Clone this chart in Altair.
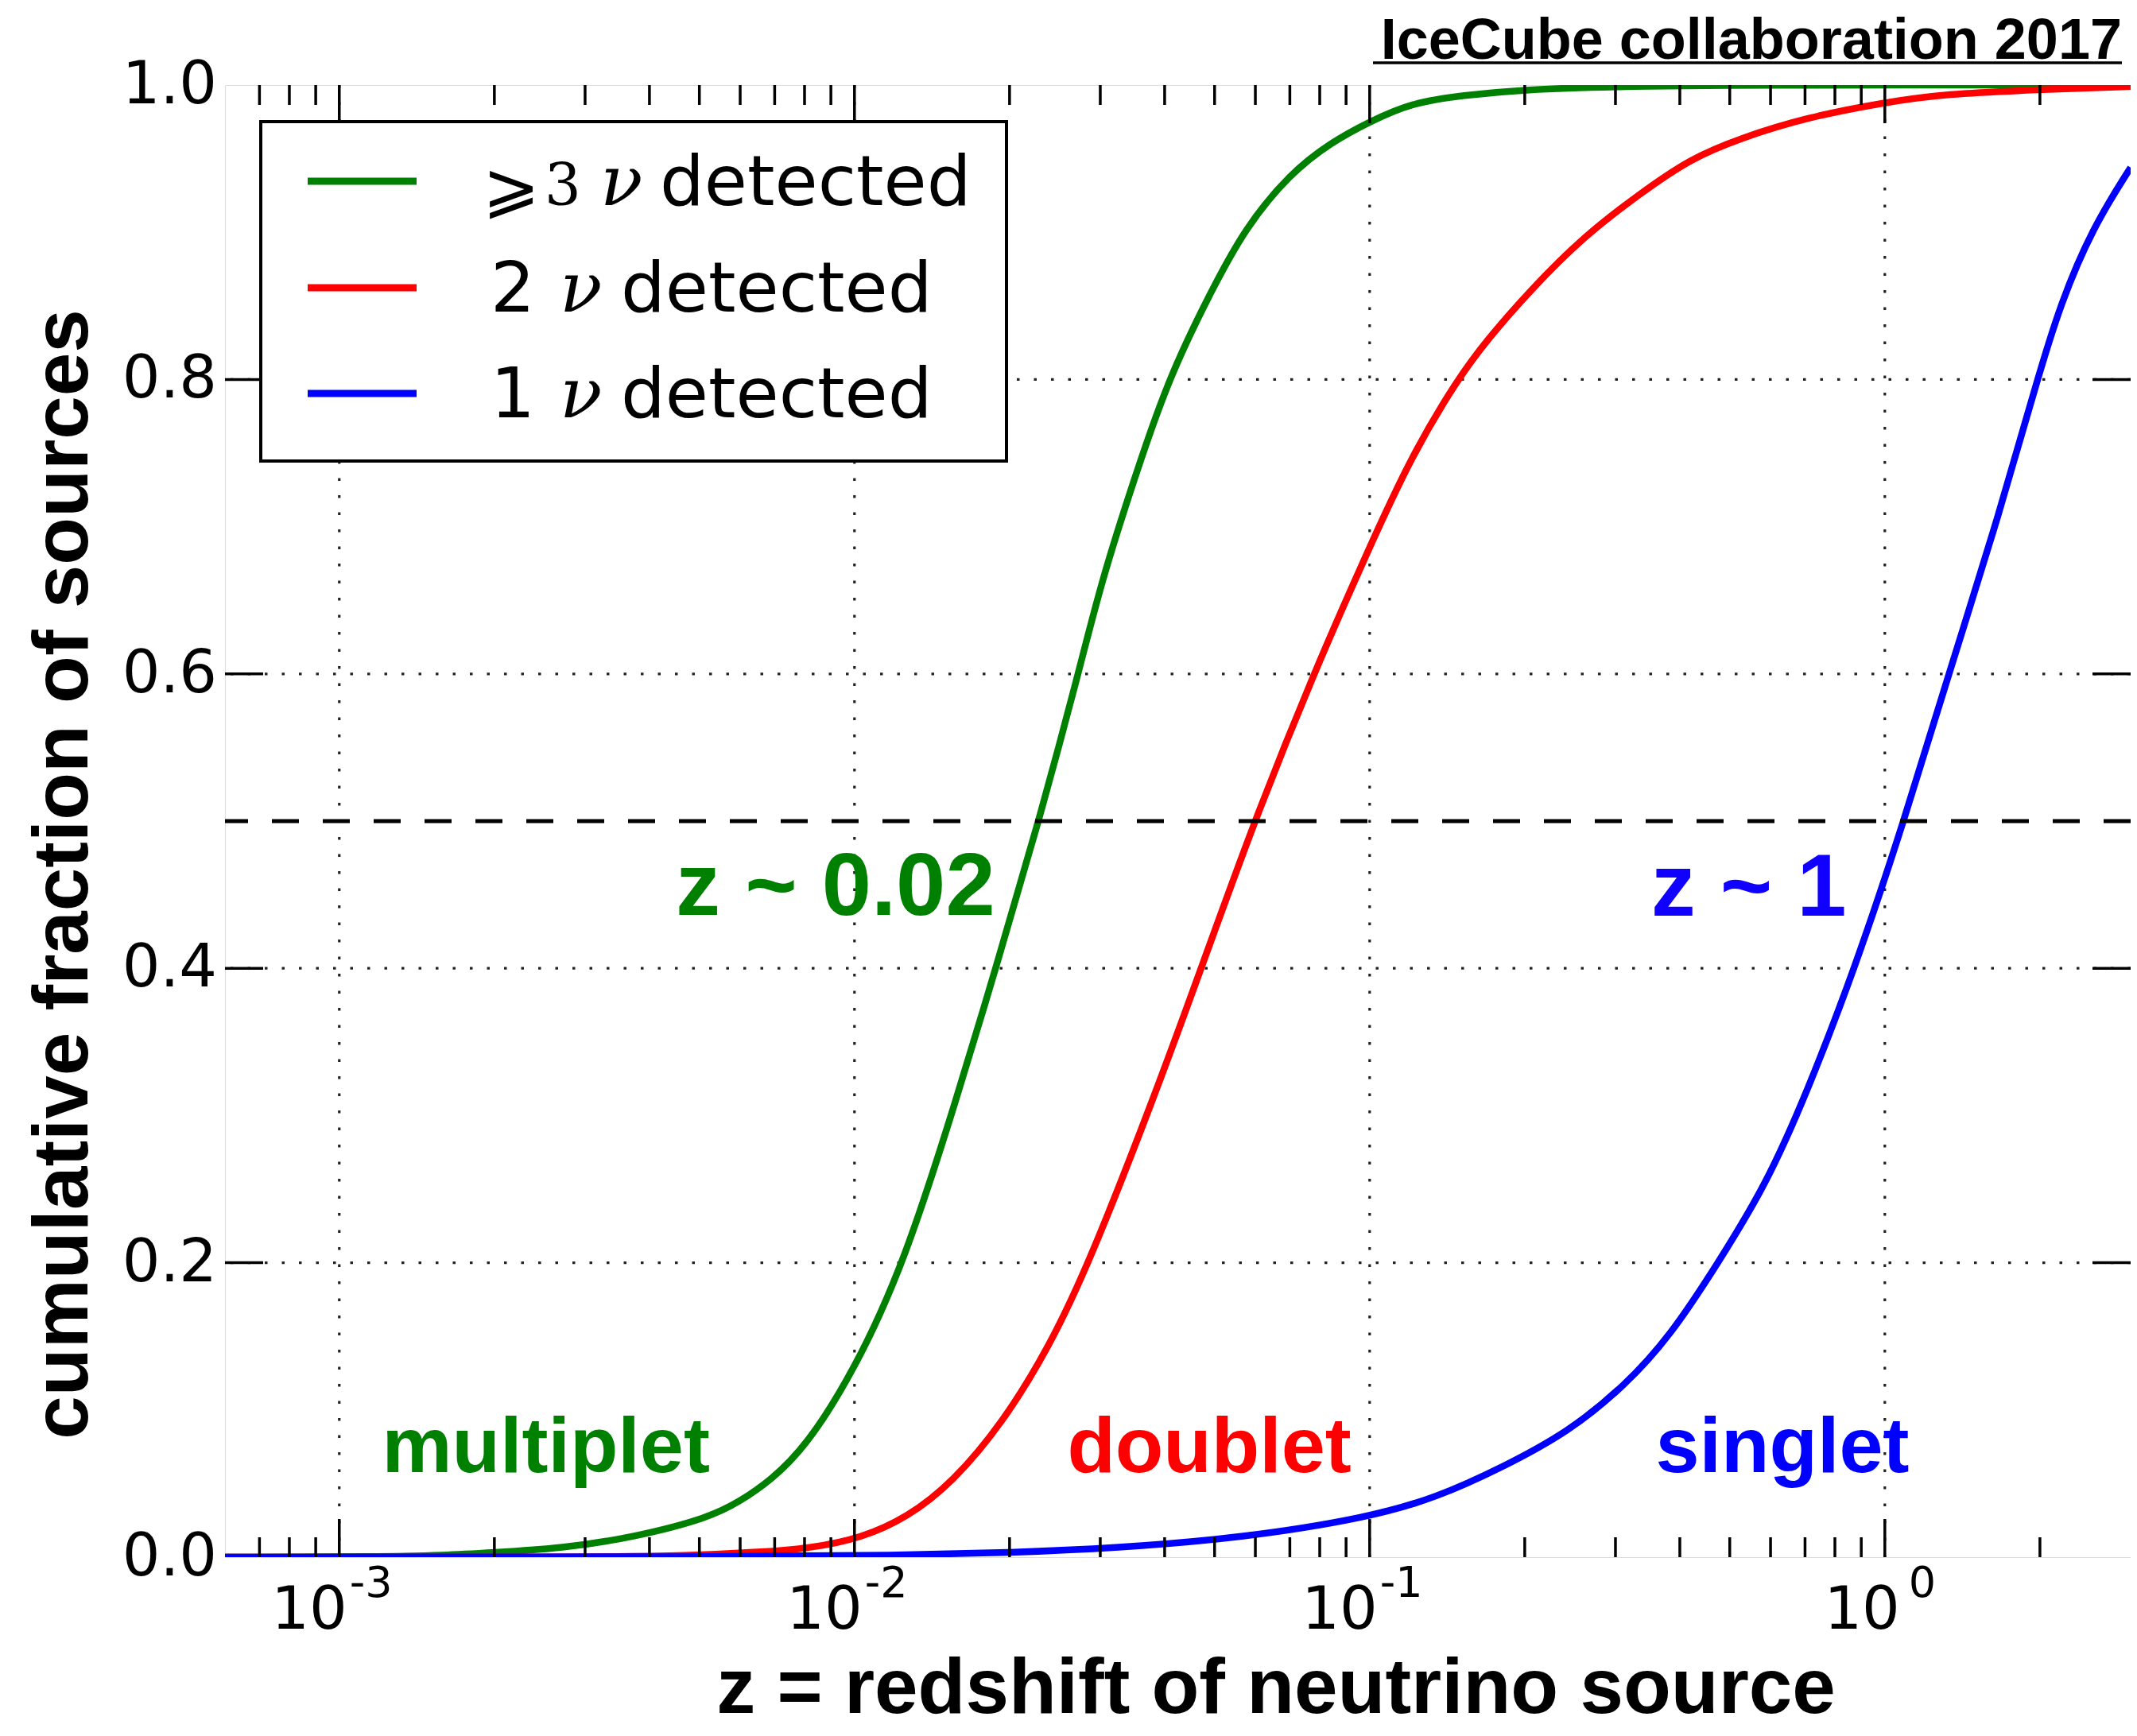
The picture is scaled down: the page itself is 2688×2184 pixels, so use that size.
import altair as alt
import pandas as pd

# ---------------- data ----------------
green_z = [0.0006, 0.0012, 0.0016, 0.00197, 0.00271, 0.00372, 0.00524, 0.0060, 0.00687, 0.00804,
           0.00997, 0.01251, 0.0159, 0.0188, 0.0228, 0.0272, 0.0301, 0.0348, 0.0406, 0.0489,
           0.0573, 0.0701, 0.0841, 0.0998, 0.1208, 0.1514, 0.1995, 0.30, 0.50, 3.0]
green_f = [0.0, 0.0003, 0.0012, 0.003, 0.006, 0.0134, 0.0269, 0.038, 0.052, 0.0748,
           0.126, 0.200, 0.315, 0.400, 0.500, 0.600, 0.662, 0.731, 0.800, 0.858,
           0.903, 0.940, 0.961, 0.975, 0.988, 0.993, 0.997, 0.999, 1.0, 1.0]

red_z = [0.0006, 0.003, 0.0048, 0.00657, 0.00824, 0.01032, 0.01265, 0.01551, 0.01947, 0.0239,
         0.02858, 0.0384, 0.0471, 0.0597, 0.0778, 0.0990, 0.1205, 0.148, 0.169, 0.2055,
         0.260, 0.334, 0.419, 0.525, 0.705, 0.991, 1.30, 2.05, 3.0]
red_f = [0.0, 0.0, 0.001, 0.0034, 0.0061, 0.013, 0.0269, 0.0507, 0.092, 0.143,
         0.200, 0.315, 0.400, 0.500, 0.600, 0.683, 0.748, 0.800, 0.827, 0.861,
         0.897, 0.926, 0.950, 0.964, 0.978, 0.988, 0.994, 0.997, 0.999]

blue_z = [0.0006, 0.006, 0.012, 0.020, 0.032, 0.0564, 0.0993, 0.135, 0.181, 0.243,
          0.312, 0.383, 0.475, 0.588, 0.705, 0.875, 1.09, 1.33, 1.63, 1.977,
          2.19, 2.53, 3.0]
blue_f = [0.0, 0.0002, 0.0012, 0.003, 0.0061, 0.013, 0.0268, 0.0405, 0.061, 0.085,
          0.116, 0.150, 0.200, 0.253, 0.315, 0.400, 0.500, 0.600, 0.697, 0.800,
          0.851, 0.903, 0.944]

series_prefix = ["⩾", "2", "1"]
series_colors = ["#008000", "#ff0000", "#0000ff"]

x_major = [0.001, 0.01, 0.1, 1.0]
x_major_exp = ["-3", "-2", "-1", "0"]
x_minor = [m * 1e-4 for m in (7, 8, 9)] + [m * d for d in (1e-3, 1e-2, 1e-1) for m in range(2, 10)] + [2.0]
y_major = [0.0, 0.2, 0.4, 0.6, 0.8, 1.0]
y_major_lab = ["0.0", "0.2", "0.4", "0.6", "0.8", "1.0"]
y_grid = [0.2, 0.4, 0.6, 0.8]
half_level = [0.5]

ann_text = ["multiplet", "doublet", "singlet", "z ~ 0.02", "z ~ 1"]
ann_z = [0.00121, 0.02588, 0.359, 0.0045, 0.3516]
ann_f = [0.058, 0.0576, 0.0576, 0.4365, 0.436]
ann_col = ["#008000", "#ff0000", "#0000ff", "#008000", "#1000ff"]

# ---------------- layout ----------------
W, H = 2397, 1852
xs = alt.Scale(type="log", domain=[0.0006, 3.0], nice=False)
ys = alt.Scale(domain=[0.0, 1.0], nice=False, zero=False)
one = pd.DataFrame({"a": [0]})

def X(f="v"):
    return alt.X(f + ":Q", scale=xs, axis=None)

def Y(f="v"):
    return alt.Y(f + ":Q", scale=ys, axis=None)

layers = []

# grid
grid = dict(color="#222222", strokeWidth=3.2, strokeDash=[3.5, 18])
layers.append(alt.Chart(pd.DataFrame({"v": x_major})).mark_rule(**grid).encode(x=X()))
layers.append(alt.Chart(pd.DataFrame({"v": y_grid})).mark_rule(**grid).encode(y=Y()))

# curves
for zz, ff, col in [(green_z, green_f, series_colors[0]),
                    (red_z, red_f, series_colors[1]),
                    (blue_z, blue_f, series_colors[2])]:
    df = pd.DataFrame({"z": zz, "f": ff})
    layers.append(alt.Chart(df).mark_line(color=col, strokeWidth=8.5, interpolate="basis",
                                          clip=True).encode(x=X("z"), y=Y("f")))

# dashed median line
layers.append(alt.Chart(pd.DataFrame({"v": half_level})).mark_rule(
    color="black", strokeWidth=5, strokeDash=[34, 30]).encode(y=Y()))

# annotations
ann = pd.DataFrame({"t": ann_text, "z": ann_z, "f": ann_f, "c": ann_col})
for i, t in enumerate(ann_text):
    size = 112 if t.startswith("z") else 99
    layers.append(alt.Chart(ann.iloc[[i]]).mark_text(
        font="Liberation Sans", fontWeight="bold", fontSize=size, align="left",
        baseline="alphabetic", color=ann_col[i]).encode(x=X("z"), y=Y("f"), text="t:N"))

# ticks (inward, all four sides)
xmaj = pd.DataFrame({"v": x_major})
xmin = pd.DataFrame({"v": x_minor})
ymaj = pd.DataFrame({"v": y_major[1:-1]})
tk = dict(color="black", strokeWidth=3.5)
layers.append(alt.Chart(xmaj).mark_rule(**tk).encode(x=X(), y=alt.value(H), y2=alt.value(H - 48)))
layers.append(alt.Chart(xmaj).mark_rule(**tk).encode(x=X(), y=alt.value(0), y2=alt.value(48)))
layers.append(alt.Chart(xmin).mark_rule(**tk).encode(x=X(), y=alt.value(H), y2=alt.value(H - 25)))
layers.append(alt.Chart(xmin).mark_rule(**tk).encode(x=X(), y=alt.value(0), y2=alt.value(25)))
layers.append(alt.Chart(ymaj).mark_rule(**tk).encode(y=Y(), x=alt.value(0), x2=alt.value(48)))
layers.append(alt.Chart(ymaj).mark_rule(**tk).encode(y=Y(), x=alt.value(W), x2=alt.value(W - 48)))

# y tick labels
ylab = pd.DataFrame({"v": y_major, "t": y_major_lab})
layers.append(alt.Chart(ylab).mark_text(font="DejaVu Sans", fontSize=75, align="right",
                                        baseline="alphabetic", dy=23, color="black").encode(
    x=alt.value(-10), y=Y(), text="t:N"))

# x tick labels 10^n
xlab = pd.DataFrame({"v": x_major, "e": x_major_exp})
base = alt.Chart(xlab)
layers.append(base.transform_filter("datum.v < 1").mark_text(
    font="DejaVu Sans", fontSize=75, align="right", baseline="alphabetic", dx=10, dy=90,
    color="black").encode(x=X(), y=alt.value(H), text=alt.value("10")))
layers.append(base.transform_filter("datum.v >= 1").mark_text(
    font="DejaVu Sans", fontSize=75, align="right", baseline="alphabetic", dx=19, dy=90,
    color="black").encode(x=X(), y=alt.value(H), text=alt.value("10")))
layers.append(base.transform_filter("datum.v < 1").mark_text(
    font="DejaVu Sans", fontSize=54, align="left", baseline="alphabetic", dx=13, dy=50,
    color="black").encode(x=X(), y=alt.value(H), text="e:N"))
layers.append(base.transform_filter("datum.v >= 1").mark_text(
    font="DejaVu Sans", fontSize=54, align="left", baseline="alphabetic", dx=30, dy=50,
    color="black").encode(x=X(), y=alt.value(H), text="e:N"))

# axis titles
layers.append(alt.Chart(one).mark_text(
    font="Liberation Sans", fontWeight="bold", fontSize=98, align="center", baseline="alphabetic",
    color="black", text="z = redshift of neutrino source").encode(
    x=alt.value(1322), y=alt.value(H + 196)))
layers.append(alt.Chart(one).mark_text(
    font="Liberation Sans", fontWeight="bold", fontSize=98, align="center", baseline="alphabetic",
    angle=270, color="black", text="cumulative fraction of sources").encode(
    x=alt.value(-173), y=alt.value(993)))

# top-right credit with underline
layers.append(alt.Chart(one).mark_text(
    font="Liberation Sans", fontWeight="bold", fontSize=72, align="right", baseline="alphabetic",
    color="black", text="IceCube collaboration 2017").encode(x=alt.value(2386), y=alt.value(-33)))
layers.append(alt.Chart(one).mark_rule(color="black", strokeWidth=3.5).encode(
    x=alt.value(1444), x2=alt.value(2386), y=alt.value(-28)))

# legend
layers.append(alt.Chart(one).mark_rect(fill="white", stroke="black", strokeWidth=4).encode(
    x=alt.value(45), x2=alt.value(983), y=alt.value(46), y2=alt.value(473)))
row_y = [121, 255, 388]
for i in range(3):
    ly = row_y[i]
    layers.append(alt.Chart(one).mark_rule(color=series_colors[i], strokeWidth=9).encode(
        x=alt.value(104), x2=alt.value(241), y=alt.value(ly)))
    bl = ly + 30
    if i == 0:
        layers.append(alt.Chart(one).mark_text(font="DejaVu Sans", fontSize=86, align="left",
                                               baseline="alphabetic", color="black",
                                               text="⩾").encode(x=alt.value(324), y=alt.value(bl + 7)))
        layers.append(alt.Chart(one).mark_text(font="DejaVu Serif", fontSize=72, align="left",
                                               baseline="alphabetic", color="black",
                                               text="3").encode(x=alt.value(402), y=alt.value(bl)))
        nx, dxp = 472, 547
    else:
        layers.append(alt.Chart(one).mark_text(font="DejaVu Sans", fontSize=88, align="left",
                                               baseline="alphabetic", color="black",
                                               text=series_prefix[i]).encode(x=alt.value(334), y=alt.value(bl)))
        nx, dxp = 421, 498
    layers.append(alt.Chart(one).mark_text(font="DejaVu Serif", fontSize=88, fontStyle="italic",
                                           align="left", baseline="alphabetic", color="black",
                                           text="ν").encode(x=alt.value(nx), y=alt.value(bl)))
    layers.append(alt.Chart(one).mark_text(font="DejaVu Sans", fontSize=88, align="left",
                                           baseline="alphabetic", color="black",
                                           text="detected").encode(x=alt.value(dxp), y=alt.value(bl)))

chart = alt.layer(*layers).properties(
    width=W, height=H,
    padding={"left": 275, "top": 99, "right": 0, "bottom": 217},
    autosize=alt.AutoSizeParams(type="none"),
).configure_view(stroke="black", strokeWidth=4).configure(background="white")

chart.save("out.html", embed_options={"renderer": "svg", "actions": False})
